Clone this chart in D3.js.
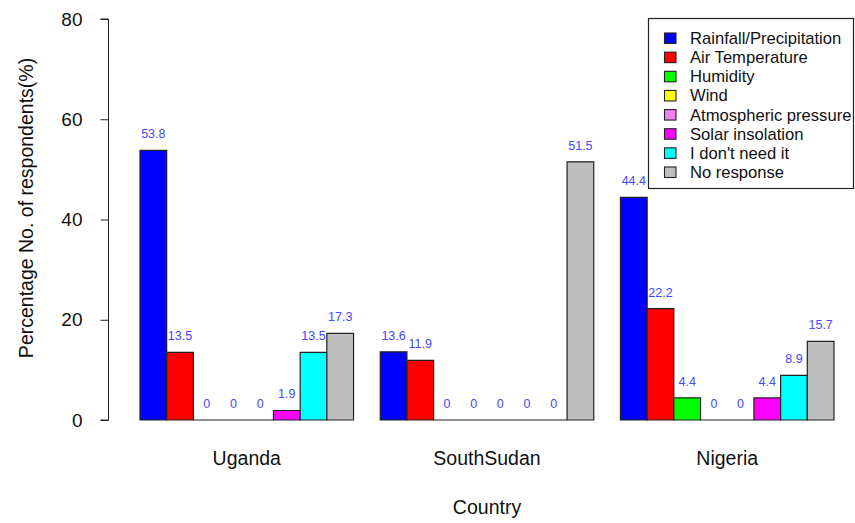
<!DOCTYPE html>
<html><head><meta charset="utf-8">
<script src="https://cdn.jsdelivr.net/npm/d3@7"></script>
<style>body{margin:0;background:#fff}svg{display:block;font-family:"Liberation Sans",Arial,sans-serif}</style>
</head><body><svg id="c" width="855" height="523"></svg>
<script>
const countries = ["Uganda", "SouthSudan", "Nigeria"];
const seriesNames = ["Rainfall/Precipitation", "Air Temperature", "Humidity", "Wind", "Atmospheric pressure", "Solar insolation", "I don't need it", "No response"];
const seriesColors = ["#0000FF", "#FF0000", "#00FF00", "#FFFF00", "#EE82EE", "#FF00FF", "#00FFFF", "#BEBEBE"];
const uganda = [53.8, 13.5, 0, 0, 0, 1.9, 13.5, 17.3];
const southSudan = [13.6, 11.9, 0, 0, 0, 0, 0, 51.5];
const nigeria = [44.4, 22.2, 4.4, 0, 0, 4.4, 8.9, 15.7];
const yTicks = [0, 20, 40, 60, 80];
const values = [uganda, southSudan, nigeria];

const svg = d3.select("#c");
const y = d3.scaleLinear().domain([0, 80]).range([420, 19]);
const x0 = d3.scaleBand().domain(countries).range([140, 834]).paddingInner(1/9).paddingOuter(0);
const x1 = d3.scaleBand().domain(d3.range(seriesNames.length)).range([0, x0.bandwidth()]);

// y axis
const yAxis = d3.axisLeft(y).tickValues(yTicks).tickSize(8).tickPadding(18).tickFormat(d3.format("d"));
const ga = svg.append("g").attr("transform", "translate(108.5,0)").call(yAxis);
ga.select(".domain").attr("stroke", "#222").attr("d", `M-8,${y(80)}H0V${y(0)}H-8`);
ga.selectAll(".tick line").attr("stroke", "#222");
ga.selectAll(".tick text").attr("font-size", 19).attr("fill", "#111").attr("font-family", "Liberation Sans, Arial, sans-serif");

// bars
countries.forEach((c, gi) => {
  const g = svg.append("g").attr("transform", `translate(${x0(c)},0)`);
  const data = values[gi].map((v, i) => ({v, i}));
  g.selectAll("path.bar").data(data).join("path")
    .attr("class", "bar")
    .attr("d", d => `M${x1(d.i)},${y(0)}V${y(d.v)}H${x1(d.i) + x1.bandwidth()}V${y(0)}Z`)
    .attr("fill", d => seriesColors[d.i])
    .attr("stroke", "#222").attr("stroke-width", 1.2);
  g.selectAll("text.val").data(data).join("text")
    .attr("class", "val")
    .attr("x", d => x1(d.i) + x1.bandwidth() / 2)
    .attr("y", d => y(d.v) - 12)
    .attr("text-anchor", "middle")
    .attr("font-size", 12.5)
    .attr("fill", "#4646ff")
    .text(d => d.v);
  svg.append("text").attr("x", x0(c) + x0.bandwidth() / 2).attr("y", 465)
    .attr("text-anchor", "middle").attr("font-size", 19.5).attr("fill", "#111").text(c);
});

// axis titles
svg.append("text").attr("x", 487).attr("y", 514).attr("text-anchor", "middle")
  .attr("font-size", 19.5).attr("fill", "#111").text("Country");
svg.append("text").attr("transform", "translate(33,208) rotate(-90)").attr("text-anchor", "middle")
  .attr("font-size", 19.5).attr("fill", "#111").text("Percentage No. of respondents(%)");

// legend
const lg = svg.append("g");
lg.append("rect").attr("x", 648.5).attr("y", 18.5).attr("width", 205).attr("height", 170)
  .attr("fill", "#fff").attr("stroke", "#222").attr("stroke-width", 1.2);
const ly = d3.scalePoint().domain(seriesNames).range([38.5, 172.5]);
seriesNames.forEach((n, i) => {
  lg.append("rect").attr("x", 664.5).attr("y", ly(n) - 5.5).attr("width", 11.5).attr("height", 10.5)
    .attr("fill", seriesColors[i]).attr("stroke", "#222").attr("stroke-width", 1.1);
  lg.append("text").attr("x", 690).attr("y", ly(n) + 5.5).attr("font-size", 16.6).attr("fill", "#111").text(n);
});
</script></body></html>
